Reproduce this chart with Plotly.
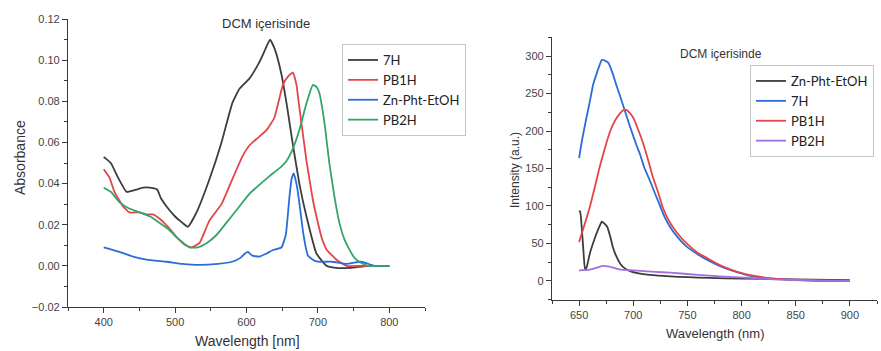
import plotly.graph_objects as go

# ---------------- Absorbance (left) ----------------
abs_7h_x = [400, 410, 420, 432, 445, 455, 465, 475, 480, 490, 500, 510, 518, 530, 548, 565, 580, 590, 604, 618, 626, 633, 640, 649, 657, 664, 674, 684, 698, 712, 725, 745, 770, 800]
abs_7h_y = [0.053, 0.050, 0.043, 0.036, 0.037, 0.038, 0.038, 0.037, 0.033, 0.028, 0.024, 0.021, 0.019, 0.026, 0.042, 0.060, 0.079, 0.086, 0.091, 0.099, 0.105, 0.110, 0.105, 0.093, 0.077, 0.061, 0.040, 0.024, 0.006, 0.000, -0.001, -0.001, 0.000, 0.000]

abs_pb1h_x = [400, 408, 415, 427, 436, 450, 460, 469, 478, 490, 502, 515, 523, 534, 548, 565, 580, 594, 604, 615, 628, 639, 651, 658, 665, 670, 674, 679, 684, 693, 698, 705, 712, 726, 740, 760, 780, 800]
abs_pb1h_y = [0.047, 0.043, 0.036, 0.029, 0.026, 0.026, 0.025, 0.025, 0.023, 0.019, 0.014, 0.010, 0.009, 0.011, 0.022, 0.030, 0.042, 0.053, 0.0585, 0.062, 0.066, 0.072, 0.088, 0.092, 0.094, 0.088, 0.077, 0.064, 0.051, 0.032, 0.024, 0.014, 0.008, 0.003, 0.000, 0.000, 0.000, 0.000]

abs_zn_x = [400, 420, 441, 460, 488, 510, 534, 560, 580, 592, 598, 602, 608, 618, 628, 637, 649, 655, 660, 663, 666, 668, 671, 675, 679, 683, 686, 693, 700, 720, 740, 760, 780, 800]
abs_zn_y = [0.009, 0.007, 0.0045, 0.003, 0.002, 0.001, 0.0005, 0.001, 0.002, 0.004, 0.006, 0.0068, 0.005, 0.0045, 0.006, 0.0077, 0.009, 0.015, 0.033, 0.042, 0.045, 0.043, 0.038, 0.028, 0.017, 0.009, 0.005, 0.003, 0.002, 0.002, 0.001, 0.002, 0.000, 0.000]

abs_pb2h_x = [400, 410, 422, 435, 450, 465, 478, 490, 502, 512, 520, 532, 544, 558, 572, 588, 604, 620, 637, 648, 656, 665, 674, 684, 693, 698, 702, 709, 716, 723, 730, 737, 744, 751, 758, 770, 785, 800]
abs_pb2h_y = [0.038, 0.036, 0.031, 0.028, 0.026, 0.024, 0.021, 0.018, 0.014, 0.011, 0.009, 0.009, 0.011, 0.015, 0.021, 0.028, 0.035, 0.040, 0.045, 0.048, 0.051, 0.057, 0.066, 0.079, 0.088, 0.087, 0.084, 0.070, 0.050, 0.034, 0.021, 0.013, 0.008, 0.004, 0.002, 0.000, 0.000, 0.000]

# ---------------- Emission (right) ----------------
em_7h_x = [650, 653, 656, 660, 663, 667, 671, 674, 677, 681, 684, 688, 692, 697, 703, 706, 710, 715, 720, 725, 729, 734, 740, 749, 760, 771, 783, 795, 807, 820, 840, 860, 880, 900]
em_7h_y = [164, 190, 212, 240, 262, 280, 295, 294, 291, 277, 263, 246, 228, 206, 181, 170, 152, 135, 117, 99, 85, 72, 60, 46, 35, 26, 18, 12, 7, 4, 2, 1, 0, 0]

em_pb1h_x = [650, 655, 660, 665, 669, 674, 679, 684, 688, 691, 694, 698, 701, 705, 709, 714, 718, 723, 727, 733, 740, 750, 759, 770, 780, 790, 801, 815, 830, 850, 870, 900]
em_pb1h_y = [52, 75, 99, 128, 152, 178, 201, 216, 224, 228, 228, 222, 215, 200, 184, 160, 139, 118, 99, 80, 65, 49, 38, 29, 21, 15, 10, 6, 3, 1, 0, 0]

em_zn_x = [650, 651, 652, 654, 655.5, 657, 660, 664, 668, 671, 673, 676, 679, 681, 684, 688, 692, 697, 705, 715, 734, 750, 770, 800, 850, 900]
em_zn_y = [92, 93, 80, 40, 15, 18, 37, 55, 70, 79, 77, 72, 58, 46, 34, 23, 17, 13, 10, 8, 6, 5, 4, 3, 2, 1]

em_pb2h_x = [650, 660, 667, 672, 678, 688, 700, 720, 734, 760, 780, 807, 830, 860, 900]
em_pb2h_y = [14, 15, 18, 20, 19, 15, 14, 12, 11, 8, 6, 4, 2, 1, 0]

# ticks
abs_xticks = [400, 500, 600, 700, 800]
abs_yticks = [-0.02, 0.00, 0.02, 0.04, 0.06, 0.08, 0.10, 0.12]
em_xticks = [650, 700, 750, 800, 850, 900]
em_yticks = [0, 50, 100, 150, 200, 250, 300]

BLACK = "#3d3d3d"
RED = "#e5444a"
BLUE = "#2a6dd9"
GREEN = "#33a56b"
PURPLE = "#a36fe0"

W, H = 881, 351

fig = go.Figure()

def line(x, y, name, color, xa, ya, legend):
    fig.add_trace(go.Scatter(x=x, y=y, name=name, mode="lines",
                             line=dict(color=color, width=1.8, shape="spline", smoothing=0.4),
                             xaxis=xa, yaxis=ya, legend=legend))

line(abs_7h_x, abs_7h_y, "7H", BLACK, "x", "y", "legend")
line(abs_pb1h_x, abs_pb1h_y, "PB1H", RED, "x", "y", "legend")
line(abs_zn_x, abs_zn_y, "Zn-Pht-EtOH", BLUE, "x", "y", "legend")
line(abs_pb2h_x, abs_pb2h_y, "PB2H", GREEN, "x", "y", "legend")

line(em_zn_x, em_zn_y, "Zn-Pht-EtOH", BLACK, "x2", "y2", "legend2")
line(em_7h_x, em_7h_y, "7H", BLUE, "x2", "y2", "legend2")
line(em_pb1h_x, em_pb1h_y, "PB1H", RED, "x2", "y2", "legend2")
line(em_pb2h_x, em_pb2h_y, "PB2H", PURPLE, "x2", "y2", "legend2")

AX = "#3a3a3a"
tickfont = dict(family="Liberation Sans, Arial, sans-serif", size=11, color="#444")

def axis(domain, rng, tickvals, minor_dtick, anchor, fmt=None):
    d = dict(domain=domain, range=rng, tickmode="array", tickvals=tickvals,
             showline=True, linecolor=AX, linewidth=1.2, ticks="outside",
             ticklen=5, tickcolor=AX, tickwidth=1, showgrid=False, zeroline=False,
             tickfont=tickfont, anchor=anchor, automargin=False,
             minor=dict(ticks="outside", ticklen=3, tickcolor=AX, dtick=minor_dtick, showgrid=False))
    if fmt:
        d["tickformat"] = fmt
    return d

fig.update_layout(
    width=W, height=H,
    margin=dict(l=0, r=0, t=0, b=0),
    paper_bgcolor="white", plot_bgcolor="white",
    template="none",
    xaxis=axis([68 / W, 425 / W], [350, 850], abs_xticks, 50, "y"),
    yaxis=axis([(H - 307) / H, (H - 19) / H], [-0.02, 0.12], abs_yticks, 0.01, "x", ".2f"),
    xaxis2=axis([552 / W, 877 / W], [625, 925], em_xticks, 25, "y2"),
    yaxis2=axis([(H - 300) / H, (H - 37) / H], [-25.5, 325.5], em_yticks, 25, "x2"),
    legend=dict(x=342 / W, y=(H - 44) / H, xanchor="left", yanchor="top",
                bordercolor="#c4c4c4", borderwidth=1, bgcolor="white",
                font=dict(family="Lato, sans-serif", size=13, color="#222"),
                tracegroupgap=0, itemwidth=30),
    legend2=dict(x=750 / W, y=(H - 65) / H, xanchor="left", yanchor="top",
                 bordercolor="#c4c4c4", borderwidth=1, bgcolor="white",
                 font=dict(family="Lato, sans-serif", size=13, color="#222"),
                 tracegroupgap=0, itemwidth=30),
    showlegend=True,
)

titlefont = dict(family="Liberation Sans, Arial, sans-serif", color="#333")
annos = [
    dict(text="DCM içerisinde", x=266 / W, y=(H - 24) / H, size=13, angle=0),
    dict(text="DCM içerisinde", x=721 / W, y=(H - 54) / H, size=12, angle=0),
    dict(text="Absorbance", x=20 / W, y=(H - 158) / H, size=14, angle=-90),
    dict(text="Wavelength [nm]", x=247 / W, y=(H - 341) / H, size=14, angle=0),
    dict(text="Intensity (a.u.)", x=515 / W, y=(H - 170) / H, size=12, angle=-90),
    dict(text="Wavelength (nm)", x=715 / W, y=(H - 333) / H, size=13, angle=0),
]
for a in annos:
    fig.add_annotation(text=a["text"], x=a["x"], y=a["y"], xref="paper", yref="paper",
                       xanchor="center", yanchor="middle", showarrow=False,
                       textangle=a["angle"], font=dict(size=a["size"], **titlefont))

fig.write_html("out.html")
